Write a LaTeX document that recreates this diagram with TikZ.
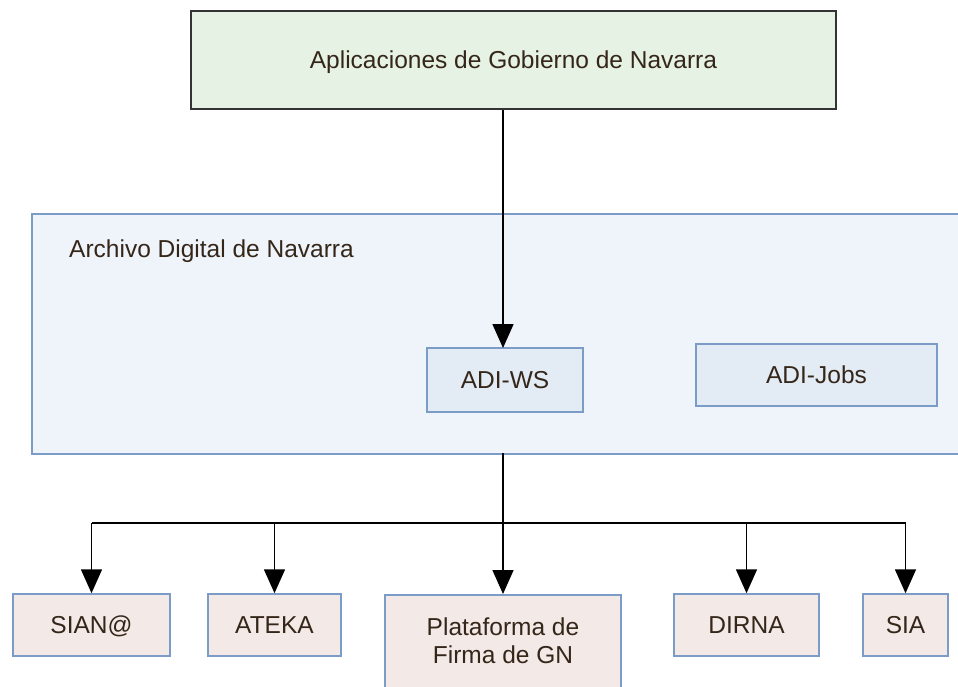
\documentclass[tikz,border=0pt]{standalone}
\usepackage{fontspec}
\setmainfont{Liberation Sans}
\usetikzlibrary{arrows.meta}
\definecolor{gfill}{HTML}{E6F2E3}
\definecolor{gdraw}{HTML}{333333}
\definecolor{cfill}{HTML}{EFF3FA}
\definecolor{cdraw}{HTML}{7A9CC6}
\definecolor{bfill}{HTML}{E3EBF4}
\definecolor{pfill}{HTML}{F3E9E6}
\definecolor{txt}{HTML}{35261A}
\tikzset{
  fnt/.style={text=txt, font=\fontsize{24.5}{28}\selectfont},
  lbl/.style={fnt, inner sep=0pt, text depth=0pt},
  topbox/.style={draw=gdraw, fill=gfill, line width=1.5pt, inner sep=0pt},
  contbox/.style={draw=cdraw, fill=cfill, line width=1.5pt, inner sep=0pt},
  wsbox/.style={draw=cdraw, fill=bfill, line width=1.5pt, inner sep=0pt, fnt, text depth=0pt},
  appbox/.style={draw=cdraw, fill=pfill, line width=1.5pt, inner sep=0pt, fnt, text depth=0pt},
  conn/.style={draw=black, line width=1.6pt},
  arr/.style={conn, -{Triangle[length=24pt,width=21pt]}}
}
\begin{document}
\begin{tikzpicture}[x=1pt,y=-1pt]
\useasboundingbox[fill=white] (0,0) rectangle (958,686);
% top box
\node[topbox, minimum width=645pt, minimum height=98pt] (top) at (513.5,60) {};
\node[lbl] (toptxt) at (513.5,60) {Aplicaciones de Gobierno de Navarra};
% container
\node[contbox, minimum width=940pt, minimum height=240pt, anchor=north west] (cont) at (31,213) {};
\node[lbl, anchor=west] (conttxt) at (69,249) {Archivo Digital de Navarra};
% inner boxes
\node[wsbox, minimum width=156pt, minimum height=64pt] (ws) at (505,380) {ADI-WS};
\node[wsbox, minimum width=241pt, minimum height=62pt] (jobs) at (816.5,375) {ADI-Jobs};
% bottom boxes
\node[appbox, minimum width=157pt, minimum height=62pt] (sian) at (91.5,625) {SIAN@};
\node[appbox, minimum width=133pt, minimum height=62pt] (ateka) at (274.5,625) {ATEKA};
\node[appbox, minimum width=236pt, minimum height=110pt, anchor=north] (plat) at (503,594) {};
\node[fnt, inner sep=0pt, align=center] (plattxt) at (503,641) {Plataforma de\\Firma de GN};
\node[appbox, minimum width=145pt, minimum height=62pt] (dirna) at (746.5,625) {DIRNA};
\node[appbox, minimum width=85pt, minimum height=62pt] (sia) at (905.5,625) {SIA};
% connectors
\coordinate (wsin) at (503,348);
\draw[arr] (top.south -| wsin) -- (wsin);
\coordinate (bus) at (503,523);
\coordinate (cbot) at (503,453);
\draw[conn] (cbot) -- (bus);
\draw[conn] (bus -| sian.north) -- (bus -| sia.north);
\draw[arr] (bus -| sian.north) -- (sian.north);
\draw[arr] (bus -| ateka.north) -- (ateka.north);
\draw[arr] (bus) -- (plat.north);
\draw[arr] (bus -| dirna.north) -- (dirna.north);
\draw[arr] (bus -| sia.north) -- (sia.north);
\end{tikzpicture}
\end{document}
